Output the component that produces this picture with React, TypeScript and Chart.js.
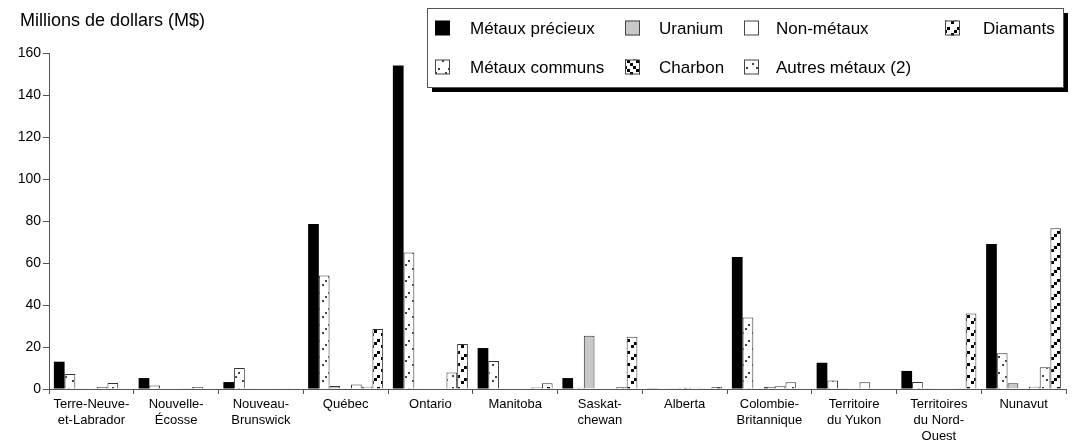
import React, { useEffect, useRef } from "react";
import { Chart, registerables } from "chart.js";

Chart.register(...registerables);

const categories: (string | string[])[] = [
  ["Terre-Neuve-", "et-Labrador"],
  ["Nouvelle-", "Écosse"],
  ["Nouveau-", "Brunswick"],
  "Québec",
  "Ontario",
  "Manitoba",
  ["Saskat-", "chewan"],
  "Alberta",
  ["Colombie-", "Britannique"],
  ["Territoire", "du Yukon"],
  ["Territoires", "du Nord-", "Ouest"],
  "Nunavut",
];

const metauxPrecieux = [13, 5.2, 3.3, 78.6, 154, 19.5, 5.2, 0.3, 62.9, 12.5, 8.6, 69];
const metauxCommuns = [7.1, 1.7, 10, 54, 65, 13.3, 0.6, 0, 34.1, 4.1, 3.3, 17];
const uranium = [0.4, 0, 0.1, 1.4, 0.1, 0, 25.4, 0.3, 0, 0.3, 0.3, 2.7];
const charbon = [0, 0.2, 0, 0, 0, 0, 0.2, 0.6, 1.0, 0, 0, 0];
const nonMetaux = [1.0, 0.3, 0.1, 2.2, 0.2, 0.2, 0, 0.6, 1.3, 3.2, 0, 1.1];
const autresMetaux = [2.8, 0.9, 0.1, 1.1, 7.8, 0.7, 0.8, 0.1, 3.2, 0.2, 0.3, 10.3];
const diamants = [0.2, 0, 0.1, 28.6, 21.4, 2.7, 24.9, 1.0, 0.2, 0.2, 36, 76.5];

const yTicks = [0, 20, 40, 60, 80, 100, 120, 140, 160];

const seriesNames = [
  "Métaux précieux",
  "Métaux communs",
  "Uranium",
  "Charbon",
  "Non-métaux",
  "Autres métaux (2)",
  "Diamants",
];

const FONT = "'Liberation Sans', Arial, Helvetica, sans-serif";

function makePattern(kind: string): CanvasPattern | string {
  const c = document.createElement("canvas");
  let w = 10, h = 16;
  if (kind === "diam") { w = 10; h = 12; }
  if (kind === "charbon") { w = 9; h = 9; }
  if (kind === "autres") { w = 10; h = 12; }
  c.width = w; c.height = h;
  const ctx = c.getContext("2d")!;
  ctx.fillStyle = "#fff";
  ctx.fillRect(0, 0, w, h);
  if (kind === "communs") {
    ctx.fillStyle = "#444";
    [[2, 12], [5, 8], [8, 4]].forEach(([x, y]) => ctx.fillRect(x, y, 2, 2));
  } else if (kind === "autres") {
    ctx.fillStyle = "#444";
    [[2, 3], [6, 7]].forEach(([x, y]) => ctx.fillRect(x, y, 2, 2));
  } else if (kind === "diam") {
    ctx.fillStyle = "#000";
    [[1, 9], [4, 6], [7, 3]].forEach(([x, y]) => ctx.fillRect(x, y, 3, 3));
  } else if (kind === "charbon") {
    ctx.fillStyle = "#000";
    [[0, 0], [3, 3], [6, 6]].forEach(([x, y]) => ctx.fillRect(x, y, 3, 3));
  }
  return ctx.createPattern(c, "repeat") || "#fff";
}

export default function App() {
  const ref = useRef<HTMLCanvasElement>(null);

  useEffect(() => {
    if (!ref.current) return;
    const fills: (CanvasPattern | string)[] = [
      "#000000",
      makePattern("communs"),
      "#c8c8c8",
      makePattern("charbon"),
      "#ffffff",
      makePattern("autres"),
      makePattern("diam"),
    ];
    const values = [metauxPrecieux, metauxCommuns, uranium, charbon, nonMetaux, autresMetaux, diamants];

    const legendPlugin = {
      id: "customLegend",
      afterDraw(chart: any) {
        const ctx: CanvasRenderingContext2D = chart.ctx;
        ctx.save();
        ctx.fillStyle = "#000";
        ctx.font = `18px ${FONT}`;
        ctx.textBaseline = "middle";
        ctx.textAlign = "left";
        ctx.fillText("Millions de dollars (M$)", 20, 21);
        const bx = 427, by = 8, bw = 636, bh = 79;
        ctx.fillStyle = "#000";
        ctx.fillRect(bx + 5, by + 5, bw, bh);
        ctx.fillStyle = "#fff";
        ctx.fillRect(bx, by, bw, bh);
        ctx.strokeStyle = "#555";
        ctx.lineWidth = 1;
        ctx.strokeRect(bx + 0.5, by + 0.5, bw, bh);
        const items: [number, number, number, number][] = [
          [0, 435, 470, 0],
          [2, 625, 659, 0],
          [4, 744, 776, 0],
          [6, 945, 983, 0],
          [1, 435, 470, 1],
          [3, 625, 659, 1],
          [5, 744, 776, 1],
        ];
        const rowY = [28, 67];
        ctx.font = `17px ${FONT}`;
        items.forEach(([si, sx, tx, row]) => {
          const cy = rowY[row];
          const sz = 15;
          ctx.fillStyle = fills[si] as any;
          ctx.fillRect(sx, cy - sz / 2, sz, sz);
          if (si !== 0) {
            ctx.strokeStyle = "#444";
            ctx.strokeRect(sx + 0.5, cy - sz / 2 + 0.5, sz - 1, sz - 1);
          }
          ctx.fillStyle = "#000";
          ctx.fillText(seriesNames[si], tx, cy + 1);
        });
        ctx.restore();
      },
    };

    const chart = new Chart(ref.current, {
      type: "bar",
      data: {
        labels: categories,
        datasets: seriesNames.map((name, i) => ({
          label: name,
          data: values[i],
          backgroundColor: fills[i] as any,
          borderColor: i === 0 ? "#000" : "#333",
          borderWidth: i === 0 ? 0 : 1,
          categoryPercentage: 0.885,
          barPercentage: 1.0,
        })),
      },
      options: {
        responsive: false,
        animation: false,
        devicePixelRatio: 1,
        layout: { padding: { top: 53, right: 8, left: 0, bottom: 0 } },
        plugins: {
          legend: { display: false },
          tooltip: { enabled: false },
          title: { display: false },
        },
        scales: {
          x: {
            grid: {
              display: true,
              drawOnChartArea: false,
              drawTicks: true,
              tickLength: 5,
              color: "#555",
              offset: true,
            },
            border: { display: true, color: "#555" },
            ticks: {
              color: "#000",
              font: { size: 13, family: FONT },
              maxRotation: 0,
              autoSkip: false,
              padding: 3,
            },
            afterFit: (s: any) => { s.height = 54; },
          },
          y: {
            min: 0,
            max: 160,
            afterBuildTicks: (s: any) => { s.ticks = yTicks.map((v) => ({ value: v })); },
            grid: {
              display: true,
              drawOnChartArea: false,
              drawTicks: true,
              tickLength: 6,
              color: "#555",
            },
            border: { display: true, color: "#555" },
            ticks: {
              color: "#000",
              font: { size: 14, family: FONT },
              padding: 2,
            },
            afterFit: (s: any) => { s.width = 49; },
          },
        },
      },
      plugins: [legendPlugin],
    });
    return () => chart.destroy();
  }, []);

  return (
    <div style={{ position: "absolute", left: 0, top: 0, width: 1074, height: 443, background: "#fff" }}>
      <canvas ref={ref} width={1074} height={443} style={{ display: "block" }} />
    </div>
  );
}
